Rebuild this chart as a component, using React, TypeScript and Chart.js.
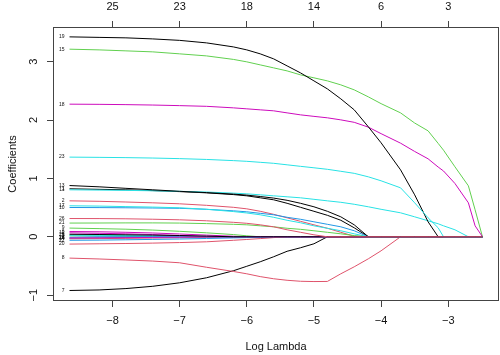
import React, { useEffect, useRef } from "react";
import { Chart, registerables } from "chart.js";

Chart.register(...registerables);

// log(lambda) grid of the coefficient paths
const logLambda = [
  -8.64, -8.2, -7.8, -7.4, -7.0, -6.6, -6.2, -6.0, -5.8, -5.6, -5.4, -5.2, -5.0,
  -4.8, -4.6, -4.4, -4.19, -4.0, -3.71, -3.5, -3.3, -3.15, -3.07, -2.9, -2.7, -2.6, -2.49,
];

const xTicks = [-8, -7, -6, -5, -4, -3];
const nonzeroCounts = ["25", "23", "18", "14", "6", "3"];
const yTicks = [-1, 0, 1, 2, 3];

const Z = (n: number) => new Array(n).fill(0);

const coef1 = [0.822, 0.813, 0.805, 0.791, 0.774, 0.753, 0.723, 0.702, 0.668, 0.634, 0.574, 0.505, 0.437, 0.368, 0.283, 0.154, ...Z(11)];
const coef2 = [0.616, 0.608, 0.596, 0.582, 0.565, 0.539, 0.505, 0.479, 0.437, 0.385, 0.325, 0.265, 0.205, 0.146, 0.077, 0.01, ...Z(11)];
const coef3 = [0.017, 0.013, 0.007, ...Z(24)];
const coef4 = [-0.026, -0.019, -0.01, ...Z(24)];
const coef5 = [0.026, 0.024, 0.021, 0.016, 0.009, ...Z(22)];
const coef6 = [0.091, 0.086, 0.077, 0.065, 0.048, 0.029, 0.009, ...Z(20)];
const coef7 = [-0.92, -0.911, -0.887, -0.848, -0.788, -0.702, -0.582, -0.505, -0.428, -0.342, -0.248, -0.188, -0.12, ...Z(14)];
const coef8 = [-0.365, -0.38, -0.397, -0.416, -0.445, -0.522, -0.594, -0.634, -0.682, -0.719, -0.745, -0.762, -0.767, -0.765, -0.634, -0.514, -0.377, -0.24, ...Z(9)];
const coef9 = [0.149, 0.14, 0.13, 0.115, 0.094, 0.068, 0.038, 0.017, ...Z(19)];
const coef10 = [0.502, 0.5, 0.497, 0.493, 0.488, 0.471, 0.445, 0.428, 0.402, 0.377, 0.334, 0.3, 0.257, 0.214, 0.171, 0.103, ...Z(11)];
const coef11 = [0.805, 0.8, 0.795, 0.788, 0.779, 0.767, 0.748, 0.736, 0.719, 0.702, 0.685, 0.668, 0.642, 0.616, 0.591, 0.557, 0.514, 0.471, 0.411, 0.342, 0.274, 0.223, 0.188, 0.12, ...Z(3)];
const coef12 = [0.068, 0.06, 0.051, 0.038, 0.021, ...Z(22)];
const coef13 = [0.878, 0.856, 0.83, 0.805, 0.779, 0.757, 0.731, 0.714, 0.69, 0.663, 0.625, 0.574, 0.514, 0.437, 0.342, 0.205, ...Z(11)];
const coef14 = [-0.034, -0.031, -0.027, -0.022, -0.016, -0.009, ...Z(21)];
const coef15 = [3.214, 3.202, 3.185, 3.168, 3.134, 3.099, 3.039, 2.997, 2.945, 2.894, 2.842, 2.774, 2.723, 2.671, 2.603, 2.517, 2.397, 2.281, 2.123, 1.949, 1.815, 1.6, 1.483, 1.199, 0.873, 0.462, 0];
const coef16 = [-0.009, ...Z(26)];
const coef17 = [0.531, 0.526, 0.517, 0.509, 0.497, 0.471, 0.432, 0.408, 0.377, 0.334, 0.283, 0.24, 0.188, 0.146, 0.103, 0.051, ...Z(11)];
const coef18 = [2.272, 2.269, 2.264, 2.257, 2.247, 2.235, 2.209, 2.192, 2.175, 2.158, 2.123, 2.089, 2.063, 2.038, 2.003, 1.961, 1.878, 1.767, 1.604, 1.462, 1.336, 1.195, 1.127, 0.913, 0.582, 0.188, 0];
const coef19 = [3.425, 3.416, 3.408, 3.39, 3.365, 3.322, 3.253, 3.202, 3.134, 3.048, 2.928, 2.808, 2.671, 2.534, 2.363, 2.175, 1.884, 1.61, 1.147, 0.719, 0.257, ...Z(6)];
const coef20 = [-0.125, -0.12, -0.115, -0.108, -0.099, -0.086, -0.06, -0.046, -0.031, -0.014, ...Z(17)];
const coef21 = [0.235, 0.236, 0.238, 0.238, 0.235, 0.226, 0.214, 0.205, 0.188, 0.171, 0.146, 0.128, 0.103, 0.077, 0.051, 0.021, ...Z(11)];
const coef22 = [-0.06, -0.057, -0.051, -0.045, -0.038, -0.029, -0.019, -0.014, -0.007, ...Z(18)];
const coef23 = [1.365, 1.361, 1.356, 1.349, 1.339, 1.325, 1.305, 1.293, 1.276, 1.259, 1.233, 1.207, 1.182, 1.156, 1.122, 1.087, 1.027, 0.959, 0.839, 0.582, 0.325, 0.154, ...Z(5)];
const coef24 = [-0.02, -0.018, -0.015, -0.011, -0.006, ...Z(22)];
const coef25 = [0.043, 0.039, 0.034, 0.029, 0.022, 0.012, ...Z(21)];
const coef26 = [0.313, 0.312, 0.308, 0.301, 0.291, 0.274, 0.248, 0.231, 0.205, 0.171, 0.12, 0.077, 0.034, ...Z(14)];

const coefs = [
  coef1, coef2, coef3, coef4, coef5, coef6, coef7, coef8, coef9, coef10, coef11, coef12, coef13,
  coef14, coef15, coef16, coef17, coef18, coef19, coef20, coef21, coef22, coef23, coef24, coef25, coef26,
];

const palette = ["#000000", "#DF536B", "#61D04F", "#2297E6", "#28E2E5", "#CD0BBC"];

const FONT = "'Liberation Sans', Arial, sans-serif";
const fmt = (v: number) => (v < 0 ? "\u2212" + Math.abs(v) : String(v));

export default function App() {
  const ref = useRef<HTMLCanvasElement>(null);

  useEffect(() => {
    document.body.style.margin = "0";
    if (!ref.current) return;

    const datasets = coefs.map((c, i) => ({
      label: String(i + 1),
      data: logLambda.map((x, j) => ({ x, y: c[j] })),
      borderColor: palette[i % 6],
      backgroundColor: palette[i % 6],
      borderWidth: 1,
      pointRadius: 0,
      fill: false,
      tension: 0,
      order: -(i + 1),
      xAxisID: "x",
      yAxisID: "y",
    }));

    const framePlugin = {
      id: "frameAndLabels",
      afterDatasetsDraw(chart: any) {
        const { ctx, chartArea, scales } = chart;
        const xs = scales.x;
        const ys = scales.y;
        ctx.save();
        ctx.font = `5px ${FONT}`;
        ctx.fillStyle = "#111";
        ctx.textAlign = "right";
        ctx.textBaseline = "middle";
        const px = xs.getPixelForValue(logLambda[0]) - 5;
        coefs.forEach((c, i) => {
          ctx.fillText(String(i + 1), px, ys.getPixelForValue(c[0]));
        });
        ctx.strokeStyle = "#444";
        ctx.lineWidth = 1;
        ctx.strokeRect(
          chartArea.left + 0.5,
          chartArea.top + 0.5,
          chartArea.right - chartArea.left - 1,
          chartArea.bottom - chartArea.top - 1
        );
        ctx.restore();
      },
    };

    const tickFont = { family: FONT, size: 11 };
    const grid = { display: true, drawOnChartArea: false, drawTicks: true, tickLength: 6, color: "#444" };

    const chart = new Chart(ref.current, {
      type: "line",
      data: { datasets: datasets as any },
      options: {
        animation: false,
        responsive: false,
        layout: { padding: { left: 0, right: 1, top: 0, bottom: 0 } },
        plugins: { legend: { display: false }, tooltip: { enabled: false } },
        scales: {
          x: {
            type: "linear",
            position: "bottom",
            display: true,
            min: -8.886,
            max: -2.244,
            afterBuildTicks: (s: any) => {
              s.ticks = xTicks.map((v) => ({ value: v }));
            },
            afterFit: (s: any) => {
              s.height = 54;
            },
            ticks: {
              callback: (v: any) => fmt(Number(v)),
              font: tickFont,
              color: "#111",
              padding: 7,
              maxRotation: 0,
              autoSkip: false,
            },
            grid,
            border: { display: false },
            title: {
              display: true,
              text: "Log Lambda",
              font: tickFont,
              color: "#111",
              padding: { top: 0, bottom: 1 },
            },
          },
          x2: {
            type: "linear",
            position: "top",
            display: true,
            min: -8.886,
            max: -2.244,
            afterBuildTicks: (s: any) => {
              s.ticks = xTicks.map((v) => ({ value: v }));
            },
            afterFit: (s: any) => {
              s.height = 27;
            },
            ticks: {
              callback: (_v: any, i: number) => nonzeroCounts[i],
              font: tickFont,
              color: "#111",
              padding: 7,
              maxRotation: 0,
              autoSkip: false,
            },
            grid,
            border: { display: false },
          },
          y: {
            type: "linear",
            position: "left",
            display: true,
            min: -1.1,
            max: 3.594,
            afterBuildTicks: (s: any) => {
              s.ticks = yTicks.map((v) => ({ value: v }));
            },
            afterFit: (s: any) => {
              s.width = 53;
            },
            ticks: {
              callback: (v: any) => fmt(Number(v)),
              font: tickFont,
              color: "#111",
              padding: 7,
              minRotation: 90,
              maxRotation: 90,
              crossAlign: "center",
              autoSkip: false,
            },
            grid,
            border: { display: false },
            title: {
              display: true,
              text: "Coefficients",
              font: tickFont,
              color: "#111",
              padding: { top: 6, bottom: 0 },
            },
          },
        },
      } as any,
      plugins: [framePlugin],
    });

    return () => chart.destroy();
  }, []);

  return <canvas ref={ref} width={500} height={355} style={{ display: "block" }} />;
}
